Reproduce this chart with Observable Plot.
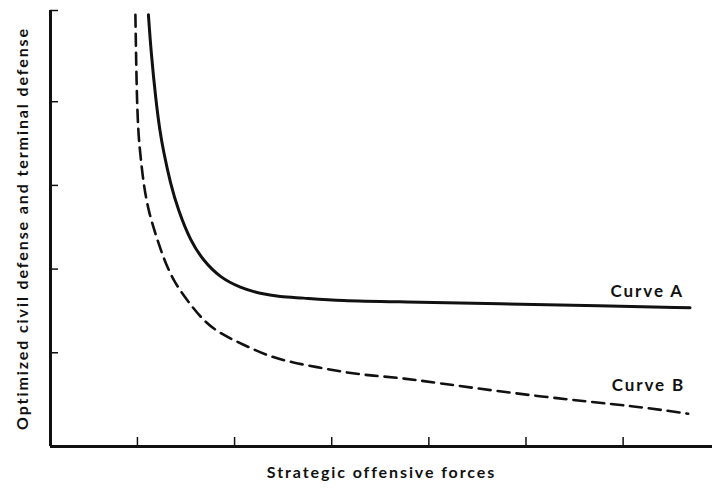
<!DOCTYPE html>
<html>
<head>
<meta charset="utf-8">
<script src="https://cdn.jsdelivr.net/npm/d3@7"></script>
<script src="https://cdn.jsdelivr.net/npm/@observablehq/plot@0.6"></script>
<style>
  html, body { margin: 0; padding: 0; background: #fff; }
  svg text { letter-spacing: 1.9px; font-weight: 700; }
</style>
</head>
<body>
<div id="chart"></div>
<script>
// Curve A (solid): optimized defense vs offensive forces
const curveAx = [1.113, 1.139, 1.190, 1.231, 1.267, 1.340, 1.422, 1.545, 1.679, 1.854, 2.060, 2.265, 2.471, 2.677, 3.088, 3.706, 4.735, 5.763, 6.689];
const curveAy = [5.038, 4.608, 4.011, 3.652, 3.413, 3.019, 2.697, 2.339, 2.100, 1.896, 1.777, 1.705, 1.669, 1.657, 1.621, 1.609, 1.585, 1.562, 1.538];
// Curve B (dashed)
const curveBx = [0.979, 0.985, 0.995, 1.010, 1.026, 1.062, 1.113, 1.185, 1.267, 1.370, 1.514, 1.679, 1.854, 2.091, 2.337, 2.605, 2.883, 3.160, 3.428, 3.706, 4.220, 5.146, 6.175, 6.669];
const curveBy = [5.038, 4.608, 4.011, 3.617, 3.413, 3.019, 2.697, 2.421, 2.134, 1.860, 1.621, 1.382, 1.227, 1.096, 0.964, 0.880, 0.821, 0.761, 0.725, 0.701, 0.618, 0.474, 0.355, 0.272];
const curveLabels = ["Curve A", "Curve B"];
const xTicks = [1, 2, 3, 4, 5, 6];
const yTicks = [1, 2, 3, 4];
const xDomain = [0.105, 6.92];
const yDomain = [-0.12, 5.09];
const xTitle = "Strategic offensive forces";
const yTitle = "Optimized civil defense and terminal defense";

const A = curveAx.map((x, i) => ({x, y: curveAy[i]}));
const B = curveBx.map((x, i) => ({x, y: curveBy[i]}));
const font = "Lato, 'Open Sans', sans-serif";

const chart = Plot.plot({
  width: 712,
  height: 488,
  marginLeft: 50,
  marginRight: 0,
  marginTop: 10,
  marginBottom: 42,
  style: {fontFamily: font, color: "#111", background: "#fff"},
  x: {domain: xDomain, axis: null},
  y: {domain: yDomain, axis: null},
  marks: [
    // axes
    Plot.ruleY([yDomain[0]], {stroke: "#111", strokeWidth: 3}),
    Plot.ruleX([xDomain[0]], {stroke: "#111", strokeWidth: 3}),
    Plot.ruleX(xTicks, {y1: yDomain[0], y2: yDomain[0], insetTop: -9, stroke: "#111", strokeWidth: 1.5}),
    Plot.ruleY(yTicks.concat([yDomain[1]]), {x1: xDomain[0], x2: xDomain[0], insetRight: -8, stroke: "#111", strokeWidth: 1.5}),
    // curves
    Plot.line(A, {x: "x", y: "y", stroke: "#111", strokeWidth: 3, curve: "basis"}),
    Plot.line(B, {x: "x", y: "y", stroke: "#111", strokeWidth: 2.6, strokeDasharray: "12,7", curve: "basis"}),
    // curve labels
    Plot.text([curveLabels[0]], {x: curveAx[curveAx.length - 1], y: curveAy[curveAy.length - 1], dx: -6, dy: -16, textAnchor: "end", fontSize: 17, fill: "#111"}),
    Plot.text([curveLabels[1]], {x: curveBx[curveBx.length - 1], y: curveBy[curveBy.length - 1], dx: -3, dy: -28, textAnchor: "end", fontSize: 17, fill: "#111"}),
    // axis titles
    Plot.text([xTitle], {frameAnchor: "bottom", dy: 31, fontSize: 16, fill: "#111"}),
    Plot.text([yTitle], {frameAnchor: "left", textAnchor: "middle", rotate: -90, dx: -28, fontSize: 16, fill: "#111"})
  ]
});
document.getElementById("chart").appendChild(chart);
</script>
</body>
</html>
